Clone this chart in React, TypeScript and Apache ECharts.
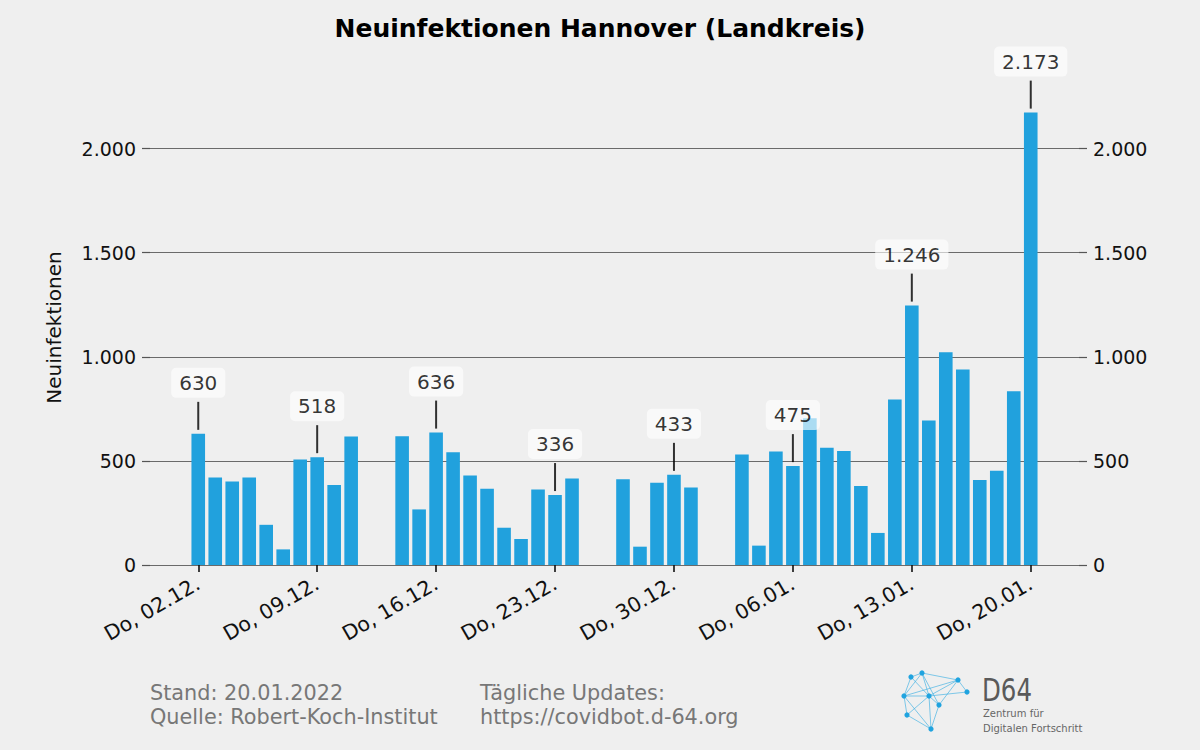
import React, { useEffect, useRef } from 'react';
import * as echarts from 'echarts';

// Days from Thu 02.12.2021 to Thu 20.01.2022 (index 0 = 02.12.)
const dates: string[] = [
  '02.12.', '03.12.', '04.12.', '05.12.', '06.12.', '07.12.', '08.12.', '09.12.', '10.12.', '11.12.',
  '12.12.', '13.12.', '14.12.', '15.12.', '16.12.', '17.12.', '18.12.', '19.12.', '20.12.', '21.12.',
  '22.12.', '23.12.', '24.12.', '25.12.', '26.12.', '27.12.', '28.12.', '29.12.', '30.12.', '31.12.',
  '01.01.', '02.01.', '03.01.', '04.01.', '05.01.', '06.01.', '07.01.', '08.01.', '09.01.', '10.01.',
  '11.01.', '12.01.', '13.01.', '14.01.', '15.01.', '16.01.', '17.01.', '18.01.', '19.01.', '20.01.',
];

const values: (number | null)[] = [
  630, 420, 401, 420, 193, 75, 507, 518, 384, 617,
  null, null, 618, 267, 636, 542, 430, 366, 179, 125,
  363, 336, 416, null, null, 412, 88, 395, 433, 372,
  null, null, 531, 93, 545, 475, 705, 563, 548, 379,
  154, 795, 1246, 694, 1022, 939, 408, 453, 835, 2173,
];

const tickIndices: number[] = [0, 7, 14, 21, 28, 35, 42, 49];
const tickLabels: string[] = [
  'Do, 02.12.', 'Do, 09.12.', 'Do, 16.12.', 'Do, 23.12.',
  'Do, 30.12.', 'Do, 06.01.', 'Do, 13.01.', 'Do, 20.01.',
];
const yTicks: number[] = [0, 500, 1000, 1500, 2000];
const annotatedIndices: number[] = [0, 7, 14, 21, 28, 35, 42, 49];

const fmt = (v: number) => String(Math.round(v)).replace(/\B(?=(\d{3})+(?!\d))/g, '.');

const BAR_COLOR = '#21a1dd';
const FONT = 'DejaVu Sans';

// logo decoration
const logoNodes: [number, number][] = [
  [911, 677], [922, 673], [958, 680], [967, 692], [904, 696],
  [929, 696], [939, 705], [907, 715], [931, 729],
];
const logoEdges: [number, number][] = [
  [0, 1], [1, 2], [2, 3], [0, 4], [1, 4], [1, 5], [4, 5], [5, 2], [4, 7], [7, 5],
  [5, 6], [4, 8], [7, 8], [5, 8], [0, 5], [1, 6], [6, 2], [2, 4], [5, 3], [6, 8],
];

export default function App() {
  const ref = useRef<HTMLDivElement>(null);
  useEffect(() => {
    if (!ref.current) return;
    const chart = echarts.init(ref.current, undefined, { renderer: 'svg' });

    const barData = values
      .map((v, i) => (v == null ? null : [i, v]))
      .filter((d) => d !== null) as number[][];
    const annotData = annotatedIndices.map((i) => [i, values[i] as number]);

    const footFont = `20.8px "${FONT}"`;
    const graphics: any[] = [
      { type: 'text', x: 150, y: 693, style: { text: 'Stand: 20.01.2022', fill: '#777', font: footFont, verticalAlign: 'middle' } },
      { type: 'text', x: 150, y: 717, style: { text: 'Quelle: Robert-Koch-Institut', fill: '#777', font: footFont, verticalAlign: 'middle' } },
      { type: 'text', x: 480, y: 693, style: { text: 'Tägliche Updates:', fill: '#777', font: footFont, verticalAlign: 'middle' } },
      { type: 'text', x: 480, y: 717, style: { text: 'https://covidbot.d-64.org', fill: '#777', font: footFont, verticalAlign: 'middle' } },
    ];
    logoEdges.forEach(([a, b]) => {
      graphics.push({
        type: 'line',
        shape: { x1: logoNodes[a][0], y1: logoNodes[a][1], x2: logoNodes[b][0], y2: logoNodes[b][1] },
        style: { stroke: '#3aaee3', lineWidth: 0.8, opacity: 0.8 },
      });
    });
    logoNodes.forEach(([x, y]) => {
      graphics.push({ type: 'circle', shape: { cx: x, cy: y, r: 2.6 }, style: { fill: '#1fa3df' } });
    });
    graphics.push(
      {
        type: 'text', x: 982, y: 690, scaleX: 0.85,
        style: { text: 'D64', fill: '#5a5a5a', font: `32px "DejaVu Sans Condensed"`, verticalAlign: 'middle', lineHeight: 28 },
      },
      { type: 'text', x: 983, y: 713, style: { text: 'Zentrum für', fill: '#666', font: `10px "${FONT}"`, verticalAlign: 'middle', lineHeight: 12 } },
      { type: 'text', x: 983, y: 728, style: { text: 'Digitalen Fortschritt', fill: '#666', font: `10px "${FONT}"`, verticalAlign: 'middle', lineHeight: 12 } },
    );

    const yAxisBase = {
      type: 'value',
      min: 0,
      max: 2281.65,
      axisLine: { show: false, onZero: false },
      axisTick: { show: true, customValues: yTicks, length: 8, lineStyle: { color: '#555', width: 1.2 } },
      axisLabel: { customValues: yTicks, formatter: (v: number) => fmt(v), fontSize: 19, color: '#111', margin: 14 },
    };

    chart.setOption({
      animation: false,
      backgroundColor: '#efefef',
      textStyle: { fontFamily: FONT },
      title: {
        text: 'Neuinfektionen Hannover (Landkreis)',
        left: 'center',
        top: 11,
        textStyle: { fontSize: 25, fontWeight: 'bold', color: '#000', fontFamily: FONT },
      },
      grid: { left: 150, right: 121, top: 90, bottom: 185 },
      xAxis: {
        type: 'value',
        min: -2.84,
        max: 51.84,
        axisLine: { show: false, onZero: false },
        splitLine: { show: false },
        axisTick: { show: true, customValues: tickIndices, length: 7, lineStyle: { color: '#111', width: 1.6 } },
        axisLabel: {
          customValues: tickIndices,
          formatter: (v: number) => tickLabels[tickIndices.indexOf(Math.round(v))] ?? '',
          rotate: 30,
          fontSize: 20.5,
          color: '#111',
          margin: 17,
        },
      },
      yAxis: [
        {
          ...yAxisBase,
          position: 'left',
          name: 'Neuinfektionen',
          nameLocation: 'middle',
          nameGap: 86,
          nameTextStyle: { fontSize: 20, color: '#111' },
          splitLine: { show: true, lineStyle: { color: '#6a6a6a', width: 1.2 } },
        },
        {
          ...yAxisBase,
          position: 'right',
          splitLine: { show: false },
        },
      ],
      series: [
        {
          type: 'bar',
          data: barData,
          barWidth: 13.6,
          itemStyle: { color: BAR_COLOR },
          z: 2,
        },
        {
          type: 'scatter',
          data: annotData,
          symbol: 'rect',
          symbolSize: [2, 28],
          symbolOffset: [0, -18],
          itemStyle: { color: '#000' },
          z: 5,
          label: {
            show: true,
            position: 'top',
            distance: 4,
            formatter: (p: any) => fmt(p.value[1]),
            fontSize: 20,
            color: '#000',
            backgroundColor: 'rgba(255,255,255,0.78)',
            borderRadius: 5,
            padding: [5, 8, 5, 8],
          },
        },
      ],
      graphic: graphics,
    });
    return () => chart.dispose();
  }, []);
  return <div ref={ref} style={{ position: 'fixed', left: 0, top: 0, width: 1200, height: 750 }} />;
}
